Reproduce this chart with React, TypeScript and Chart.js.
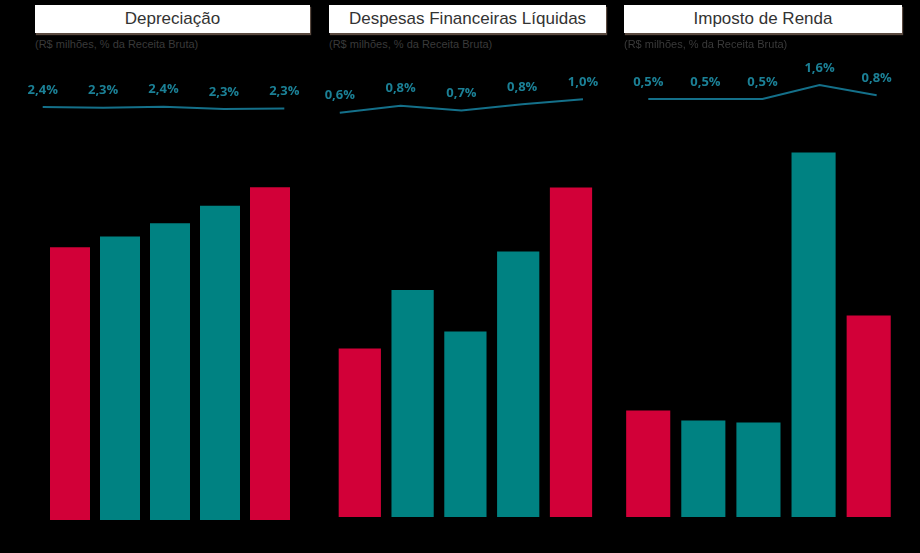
import React, { useEffect, useRef } from "react";
import { Chart, registerables } from "chart.js";

Chart.register(...registerables);

// ---- Data ----
const periods = ["P1", "P2", "P3", "P4", "P5"]; // category labels are not visible in the reference
const deprecValues = [136.4, 141.8, 148.4, 157.1, 166.4];
const deprecPct = [2.38, 2.34, 2.39, 2.27, 2.3];
const finValues = [33.7, 45.4, 37.1, 53.1, 65.9];
const finPct = [0.6, 0.8, 0.66, 0.84, 0.98];
const irValues = [21.3, 19.3, 18.9, 72.9, 40.3];
const irPct = [0.5, 0.5, 0.5, 1.6, 0.8];
const titles = ["Depreciação", "Despesas Financeiras Líquidas", "Imposto de Renda"];
const subtitle = "(R$ milhões, % da Receita Bruta)";

// ---- Styles ----
const RED = "#D20038";
const TEAL = "#008282";
const barColors = [RED, TEAL, TEAL, TEAL, RED];
const LINE_COLOR = "#14708A";
const LABEL_COLOR = "#1B8096";

type Panel = {
  title: string;
  values: number[];
  pct: number[];
  left: number;
  width: number;
  top: number;
  height: number;
  padL: number;
  padR: number;
  yMax: number;
  y2Min: number;
  y2Max: number;
  x2Min: number;
  x2Max: number;
  boxLeft: number;
  boxWidth: number;
};

const panels: Panel[] = [
  {
    title: titles[0], values: deprecValues, pct: deprecPct,
    left: 20, width: 295, top: 60, height: 460, padL: 25, padR: 20,
    yMax: 230, y2Min: -18.275, y2Max: 4.725, x2Min: 0.038, x2Max: 4.177,
    boxLeft: 35, boxWidth: 275,
  },
  {
    title: titles[1], values: finValues, pct: finPct,
    left: 318, width: 296, top: 60, height: 457, padL: 15.4, padR: 16.6,
    yMax: 91.4, y2Min: -10.853, y2Max: 2.093, x2Min: -0.105, x2Max: 4.237,
    boxLeft: 329, boxWidth: 277,
  },
  {
    title: titles[2], values: irValues, pct: irPct,
    left: 610, width: 310, top: 60, height: 457, padL: 10.65, padR: 23.75,
    yMax: 91.4, y2Min: -32.41, y2Max: 3.571, x2Min: -0.484, x2Max: 4.343,
    boxLeft: 624, boxWidth: 278,
  },
];

const fmtPct = (v: number) => v.toFixed(1).replace(".", ",") + "%";

const pctLabelPlugin = {
  id: "pctLabels",
  afterDatasetsDraw(chart: any) {
    const meta = chart.getDatasetMeta(1);
    const ds = chart.data.datasets[1];
    const ctx = chart.ctx;
    ctx.save();
    ctx.font = "bold 13px 'Open Sans', 'DejaVu Sans', sans-serif";
    ctx.fillStyle = LABEL_COLOR;
    ctx.textAlign = "center";
    ctx.textBaseline = "middle";
    meta.data.forEach((pt: any, i: number) => {
      const raw = ds.data[i];
      ctx.fillText(fmtPct(raw.y), pt.x, pt.y - 17);
    });
    ctx.restore();
  },
};

function PanelChart({ p }: { p: Panel }) {
  const ref = useRef<HTMLCanvasElement | null>(null);
  useEffect(() => {
    if (!ref.current) return;
    const chart = new Chart(ref.current, {
      type: "bar",
      data: {
        labels: periods,
        datasets: [
          {
            type: "bar",
            data: p.values,
            backgroundColor: barColors,
            borderWidth: 0,
            categoryPercentage: 1,
            barPercentage: 0.8,
            grouped: false,
            xAxisID: "x",
            yAxisID: "y",
          } as any,
          {
            type: "line",
            data: p.pct.map((v, i) => ({ x: i, y: v })),
            borderColor: LINE_COLOR,
            borderWidth: 2,
            pointRadius: 0,
            tension: 0,
            fill: false,
            clip: false,
            xAxisID: "x2",
            yAxisID: "y2",
          } as any,
        ],
      },
      options: {
        animation: false,
        responsive: true,
        maintainAspectRatio: false,
        layout: { padding: { left: p.padL, right: p.padR, top: 0, bottom: 0 } },
        plugins: {
          legend: { display: false },
          tooltip: { enabled: false },
          title: { display: false },
        },
        scales: {
          x: { type: "category", display: false, offset: true, grid: { display: false } },
          y: { type: "linear", display: false, min: 0, max: p.yMax },
          x2: { type: "linear", display: false, offset: false, min: p.x2Min, max: p.x2Max },
          y2: { type: "linear", display: false, offset: false, min: p.y2Min, max: p.y2Max },
        },
      } as any,
      plugins: [pctLabelPlugin],
    });
    return () => chart.destroy();
  }, [p]);

  return (
    <>
      <div
        style={{
          position: "absolute",
          left: p.boxLeft,
          top: 5,
          width: p.boxWidth,
          height: 28,
          background: "#fff",
          boxShadow: "1px 2px 1px #5a4a40",
          color: "#333",
          fontFamily: "'Liberation Sans', Arial, sans-serif",
          fontSize: 17,
          lineHeight: "28px",
          textAlign: "center",
        }}
      >
        {p.title}
      </div>
      <div
        style={{
          position: "absolute",
          left: p.boxLeft,
          top: 37,
          fontFamily: "'Liberation Sans', Arial, sans-serif",
          fontSize: 11,
          lineHeight: "14px",
          color: "#3a3a3a",
          whiteSpace: "nowrap",
        }}
      >
        {subtitle}
      </div>
      <div
        style={{
          position: "absolute",
          left: p.left,
          top: p.top,
          width: p.width,
          height: p.height,
        }}
      >
        <canvas ref={ref} />
      </div>
    </>
  );
}

export default function App() {
  return (
    <div
      style={{
        position: "fixed",
        left: 0,
        top: 0,
        width: 920,
        height: 553,
        background: "#000",
        overflow: "hidden",
      }}
    >
      {panels.map((p) => (
        <PanelChart key={p.title} p={p} />
      ))}
    </div>
  );
}
